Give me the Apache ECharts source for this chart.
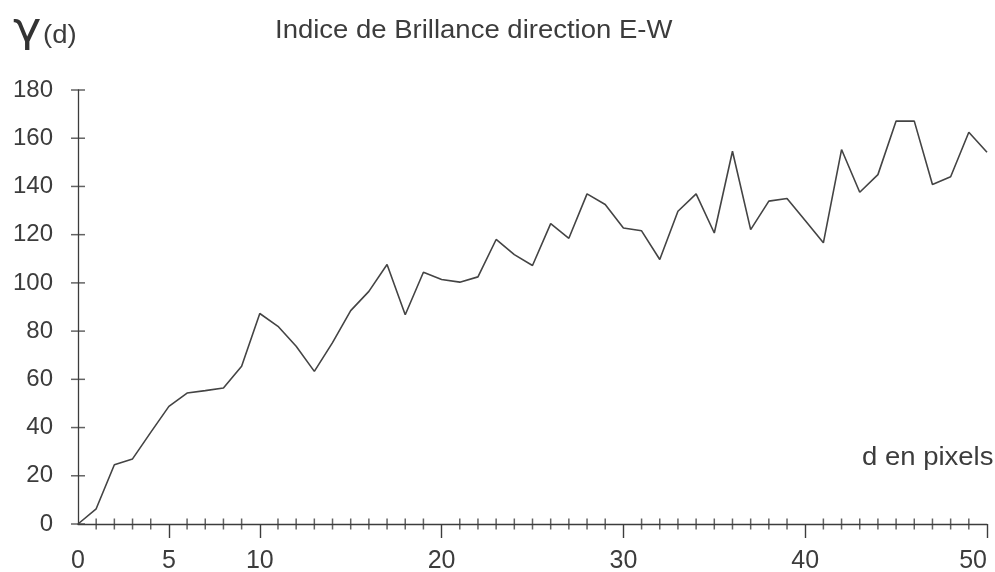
<!DOCTYPE html>
<html>
<head>
<meta charset="utf-8">
<script src="https://cdn.jsdelivr.net/npm/echarts@6/dist/echarts.min.js"></script>
<style>
  html, body { margin: 0; padding: 0; background: #fff; }
  #chart { width: 995px; height: 572px; }
</style>
</head>
<body>
<div id="chart"></div>
<script>
// Brightness index gamma(d) versus lag d (pixels), E-W direction
const distances = [0, 1, 2, 3, 4, 5, 6, 7, 8, 9, 10, 11, 12, 13, 14, 15, 16, 17, 18, 19, 20,
  21, 22, 23, 24, 25, 26, 27, 28, 29, 30, 31, 32, 33, 34, 35, 36, 37, 38, 39, 40,
  41, 42, 43, 44, 45, 46, 47, 48, 49, 50];
const gammaValues = [0, 6.3, 24.6, 27.0, 38.0, 48.8, 54.3, 55.3, 56.4, 65.4,
  87.3, 82.0, 73.7, 63.3, 75.2, 88.5, 96.5, 107.6, 86.8, 104.4,
  101.4, 100.3, 102.5, 118.0, 111.7, 107.2, 124.6, 118.5, 136.9, 132.5,
  122.8, 121.6, 109.7, 129.7, 136.9, 120.7, 154.6, 122.1, 133.9, 135.0,
  125.9, 116.6, 155.3, 137.6, 144.9, 167.1, 167.1, 140.8, 144.0, 162.5, 154.2];

// x axis: labelled values, long downward ticks, and small crossing ticks at every integer
const xLabelValues = [0, 5, 10, 20, 30, 40, 50];
const xMajorTicks = [5, 10, 20, 30, 40, 50];
const xMinorTicks = distances.filter(d => d > 0 && xMajorTicks.indexOf(d) < 0);

// y axis range, step and tick values
const yMin = 0, yMax = 180, yStep = 20;
const yTickValues = [0, 20, 40, 60, 80, 100, 120, 140, 160, 180];

const ink = '#3c3c3c';
const sans = '"Liberation Sans", Arial, sans-serif';

const chart = echarts.init(document.getElementById('chart'));

// short marks that straddle the axis lines, placed through the axes' own scales
function crossMarks(points, size) {
  return {
    type: 'scatter',
    data: points,
    symbol: 'rect',
    symbolSize: size,
    itemStyle: { color: ink },
    clip: false,
    silent: true,
    z: 3
  };
}

chart.setOption({
  backgroundColor: '#ffffff',
  animation: false,
  grid: { left: 78, right: 8, top: 90, bottom: 48, outerBoundsMode: 'none' },
  xAxis: {
    type: 'value', min: 0, max: 50, splitLine: { show: false },
    axisLine: { show: true, onZero: false, lineStyle: { color: ink, width: 1.3 } },
    axisTick: { show: true, customValues: xMajorTicks, length: 14, lineStyle: { color: ink, width: 1.4 } },
    axisLabel: { show: true, customValues: xLabelValues, margin: 25, alignMaxLabel: 'right',
      fontFamily: sans, fontSize: 25, color: ink }
  },
  yAxis: {
    type: 'value', min: yMin, max: yMax, interval: yStep, splitLine: { show: false },
    axisLine: { show: true, onZero: false, lineStyle: { color: ink, width: 1.3 } },
    axisTick: { show: false },
    axisLabel: { show: true, margin: 25, fontFamily: sans, fontSize: 24, color: ink }
  },
  graphic: [
    { type: 'text', x: 275, y: 19, scaleX: 1.1,
      style: { text: 'Indice de Brillance direction E-W', font: '25px ' + sans, fill: ink } },
    { type: 'text', x: 13, y: 11, scaleX: 1.2,
      style: { text: 'γ', font: '40px "DejaVu Sans", sans-serif', fill: '#333' } },
    { type: 'text', x: 43, y: 24, scaleX: 1.1,
      style: { text: '(d)', font: '25px ' + sans, fill: ink } },
    { type: 'text', x: 862, y: 446, scaleX: 1.1,
      style: { text: 'd en pixels', font: '25px ' + sans, fill: ink } }
  ],
  series: [
    {
      type: 'line',
      data: distances.map((d, i) => [d, gammaValues[i]]),
      showSymbol: false,
      lineStyle: { color: '#444', width: 1.6 },
      z: 2
    },
    crossMarks(yTickValues.map(v => [0, v]), [14, 1.5]),
    crossMarks(xMinorTicks.map(d => [d, 0]), [1.5, 11])
  ]
});
</script>
</body>
</html>
